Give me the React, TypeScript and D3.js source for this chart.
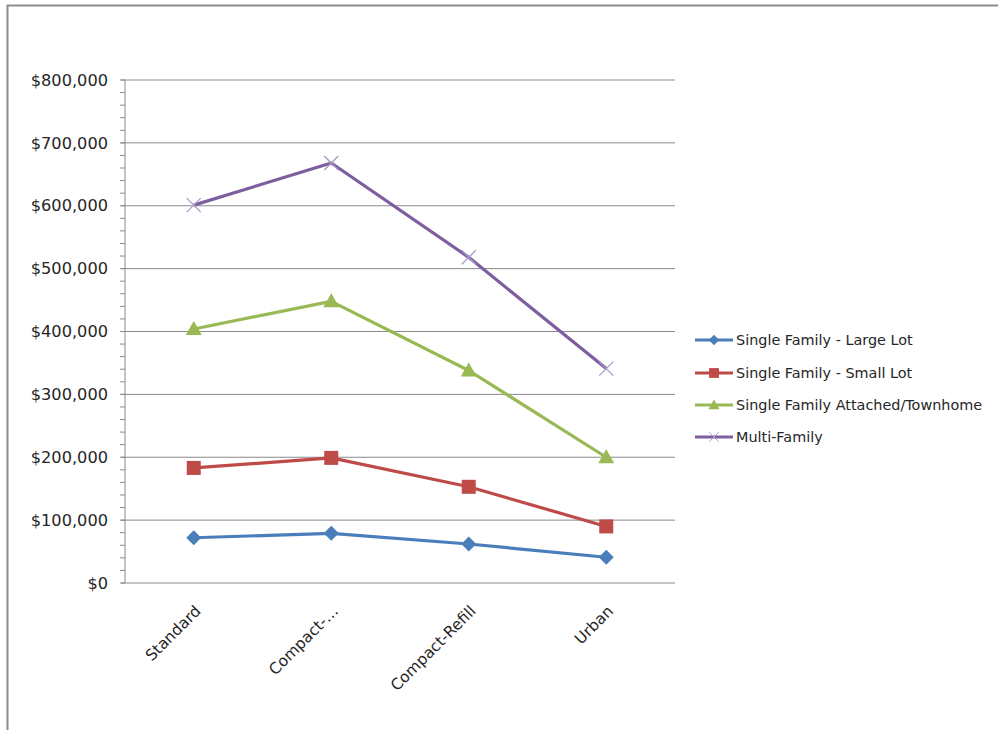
import React from "react";
import * as d3 from "d3";

const categories = ["Standard", "Compact-…", "Compact-Refill", "Urban"];
const seriesNames = [
  "Single Family - Large Lot",
  "Single Family - Small Lot",
  "Single Family Attached/Townhome",
  "Multi-Family",
];
const largeLot = [72000, 79000, 62000, 41000];
const smallLot = [183000, 199000, 153000, 90000];
const townhome = [404000, 448000, 338000, 200000];
const multiFamily = [601000, 668000, 518000, 341000];
const yTicks = [0, 100000, 200000, 300000, 400000, 500000, 600000, 700000, 800000];

const colors = ["#4A7EBB", "#BE4B48", "#98B954", "#7D5FA0"];
const markers = ["diamond", "square", "triangle", "x"];

const W = 998;
const H = 730;
const plotLeft = 125;
const plotRight = 675;
const plotTop = 80;
const plotBottom = 583;

function Marker({ type, x, y, color }: { type: string; x: number; y: number; color: string }) {
  if (type === "diamond") {
    const s = 7.5;
    return <path d={`M${x},${y - s}L${x + s},${y}L${x},${y + s}L${x - s},${y}Z`} fill={color} />;
  }
  if (type === "square") {
    return <rect x={x - 7} y={y - 7} width={14} height={14} fill={color} />;
  }
  if (type === "triangle") {
    return <path d={`M${x},${y - 8}L${x + 8},${y + 6}L${x - 8},${y + 6}Z`} fill={color} />;
  }
  const s = 7;
  return (
    <path
      d={`M${x - s},${y - s}L${x + s},${y + s}M${x - s},${y + s}L${x + s},${y - s}`}
      stroke="#A898C6"
      strokeWidth={1.3}
      fill="none"
    />
  );
}

export default function App() {
  const data = [largeLot, smallLot, townhome, multiFamily];
  const x = d3.scaleBand<string>().domain(categories).range([plotLeft, plotRight]);
  const y = d3.scaleLinear().domain([0, 800000]).range([plotBottom, plotTop]);
  const minor = d3.range(0, 800001, 20000);
  const fmt = (v: number) => "$" + d3.format(",")(v);
  const cx = (c: string) => (x(c) as number) + x.bandwidth() / 2;
  const line = d3
    .line<number>()
    .x((_, i) => cx(categories[i]))
    .y((v) => y(v));
  const font = "'DejaVu Sans', sans-serif";
  const textColor = "#262626";
  const legendY = [340, 373, 405, 437];

  return (
    <svg
      width={W}
      height={H}
      style={{ position: "absolute", left: 0, top: 0, background: "#fff" }}
      fontFamily={font}
    >
      <rect x={0} y={0} width={W} height={H} fill="#fff" />
      <path d={`M7.5,${H}V5.5H${W}`} stroke="#8c8c8c" strokeWidth={2} fill="none" />
      {yTicks.map((t) => (
        <g key={t}>
          <line x1={plotLeft - 4} x2={plotRight} y1={y(t)} y2={y(t)} stroke="#8a8a8a" strokeWidth={1} />
          <text
            x={108}
            y={y(t)}
            dy="0.35em"
            textAnchor="end"
            fontSize={16.2}
            fill={textColor}
          >
            {fmt(t)}
          </text>
        </g>
      ))}
      {minor.map((t) => (
        <line key={"m" + t} x1={plotLeft - 5} x2={plotLeft} y1={y(t)} y2={y(t)} stroke="#8a8a8a" strokeWidth={1} />
      ))}
      <line x1={plotLeft} x2={plotLeft} y1={plotTop} y2={plotBottom} stroke="#8a8a8a" strokeWidth={1} />
      {categories.map((c) => (
        <text
          key={c}
          transform={`translate(${cx(c) + 8},${612}) rotate(-45)`}
          textAnchor="end"
          fontSize={15.5}
          fill={textColor}
        >
          {c}
        </text>
      ))}
      {data.map((s, i) => (
        <g key={i}>
          <path d={line(s) as string} stroke={colors[i]} strokeWidth={3.2} fill="none" strokeLinejoin="round" />
          {s.map((v, j) => (
            <Marker key={j} type={markers[i]} x={cx(categories[j])} y={y(v)} color={colors[i]} />
          ))}
        </g>
      ))}
      {seriesNames.map((n, i) => (
        <g key={n}>
          <line x1={695} x2={733} y1={legendY[i]} y2={legendY[i]} stroke={colors[i]} strokeWidth={3} />
          <g transform={`translate(714,${legendY[i]}) scale(0.7) translate(-714,${-legendY[i]})`}>
            <Marker type={markers[i]} x={714} y={legendY[i]} color={colors[i]} />
          </g>
          <text x={736} y={legendY[i]} dy="0.35em" fontSize={14.4} fill={textColor}>
            {n}
          </text>
        </g>
      ))}
    </svg>
  );
}
